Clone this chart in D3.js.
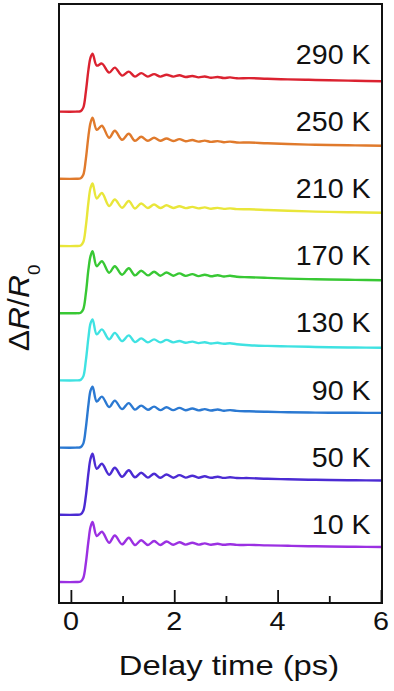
<!DOCTYPE html>
<html>
<head>
<meta charset="utf-8">
<script src="https://cdn.jsdelivr.net/npm/d3@7"></script>
<style>
  body { margin: 0; background: #fff; }
  text { font-family: 'Liberation Sans', Arial, sans-serif; fill: #111; }
</style>
</head>
<body>
<script>
  // delay time (ps), shared by all traces
  var times = [-0.23, 0.10, 0.19, 0.24, 0.29, 0.34, 0.38, 0.42, 0.50, 0.60, 0.74, 0.85, 0.99, 1.12, 1.24, 1.36,
    1.49, 1.61, 1.73, 1.85, 1.98, 2.10, 2.22, 2.35, 2.47, 2.59, 2.71, 2.84, 2.96, 3.08, 3.21, 3.45, 3.8, 4.2,
    4.6, 5.0, 5.5, 6.02];

  // dR/R0 (arb. units) per temperature, before offset
  var r10K  = [0, 0, 0.5, 4, 19, 41, 55, 60, 46, 50.3, 39.3, 46.5, 37.7, 44.3, 37, 41.7, 37, 41, 37, 40.5, 37.2, 39.8,
    37.4, 39.2, 37.4, 38.6, 37.3, 38.2, 37.2, 37.8, 37.1, 37.1, 36.6, 36.2, 35.8, 35.5, 35.2, 35];
  var r50K  = [0, 0, 0.5, 4, 19, 42, 56, 61, 46, 51, 40, 47, 38, 44.5, 37.5, 42, 37.2, 41, 37, 40.3, 37.1, 39.7,
    37.2, 39.1, 37.1, 38.5, 37, 38.1, 36.9, 37.6, 36.8, 36.7, 36, 35.5, 35.1, 34.8, 34.5, 34.3];
  var r90K  = [0, 0, 0.5, 4, 20, 43, 57, 61, 46, 51, 40.5, 47, 38.5, 44.5, 38, 42, 37.8, 41, 37.5, 40.3, 37.5, 39.7,
    37.4, 39.1, 37.2, 38.5, 37.1, 38.1, 36.9, 37.5, 36.7, 36.3, 35.8, 35.4, 35.1, 34.9, 34.8, 34.7];
  var r130K = [0, 0, 0.5, 4, 20, 43, 57, 61, 46, 51, 41, 47.5, 39.3, 45, 38.3, 42, 38, 41, 38, 40.5, 38, 39.4,
    37.6, 38.8, 37.3, 38.2, 36.9, 37.6, 36.6, 37.1, 36.2, 35.2, 34.5, 34, 33.6, 33.2, 32.9, 32.7];
  var r170K = [0, 0, 0.5, 4, 20, 44, 57, 62, 47, 52, 40.5, 47, 38.5, 45, 37.8, 42.5, 37.8, 41.5, 37.5, 40.7, 37.5, 39.8,
    37.3, 39.1, 37.1, 38.5, 36.9, 38, 36.7, 37.4, 36.4, 36, 35.3, 34.6, 34.1, 33.7, 33.3, 33];
  var r210K = [0, 0, 0.5, 4, 20, 44, 58, 62.5, 47.5, 53, 40, 46.5, 38.3, 45, 37.5, 42.5, 38, 41.5, 38, 40.7, 38, 39.8,
    37.9, 39.1, 37.6, 38.6, 37.3, 38.1, 37.1, 37.6, 36.9, 36.7, 36, 35.2, 34.6, 34.1, 33.7, 33.3];
  var r250K = [0, 0, 0.5, 4, 20, 43, 56, 61, 49, 53, 41, 48, 39, 45, 38, 42, 38, 41, 38, 40.3, 37.8, 39.7,
    37.6, 38.8, 37.2, 38.2, 36.9, 37.7, 36.6, 37.2, 36.3, 36.3, 35.5, 34.8, 34.2, 33.8, 33.4, 33];
  var r290K = [0, 0, 0.5, 4, 20, 42, 54, 58, 46, 48, 39, 44, 36, 40, 35, 38.5, 35, 37.5, 35, 36.8, 35, 36.3,
    34.6, 35.6, 34.2, 35.1, 33.9, 34.6, 33.6, 34.2, 33.3, 33.5, 32.8, 32.2, 31.8, 31.3, 30.8, 30.3];

  var tempLabels = ['10 K', '50 K', '90 K', '130 K', '170 K', '210 K', '250 K', '290 K'];
  var traces = [r10K, r50K, r90K, r130K, r170K, r210K, r250K, r290K];
  var colors = ['#9b30e2', '#4b2bd3', '#2b79d2', '#3fe2e2', '#38c834', '#e9e63a', '#e07a2c', '#db2230'];
  var offsetStep = 67.2;
  var xTicks = [0, 2, 4, 6];
  var xMinorTicks = [1, 3, 5];

  var margin = {top: 4, right: 12, bottom: 88, left: 59},
    width  = 394 - margin.left - margin.right,
    height = 691 - margin.top - margin.bottom;

  var x = d3.scaleLinear().domain([-0.23, 6.02]).range([0, width]),
    y   = d3.scaleLinear().domain([-21, 578]).range([height, 0]);

  var svg = d3.select('body').append('svg')
    .attr('width', 394)
    .attr('height', 691);

  var plot = svg.append('g')
    .attr('transform', 'translate(' + margin.left + ',' + margin.top + ')');

  var traceLine = function(off) {
    return d3.line()
      .curve(d3.curveCatmullRom.alpha(0.5))
      .x(function(d, i) { return x(times[i]); })
      .y(function(d) { return y(d + off); });
  };

  traces.forEach(function(vals, k) {
    plot.append('path')
      .datum(vals)
      .attr('fill', 'none')
      .attr('stroke', colors[k])
      .attr('stroke-width', 2.4)
      .attr('stroke-linejoin', 'round')
      .attr('d', traceLine(k * offsetStep));

    plot.append('text')
      .attr('transform', 'translate(' + x(5.8) + ',' + y(k * offsetStep + 48) + ') scale(1.06,1)')
      .attr('text-anchor', 'end')
      .style('font-size', '27px')
      .text(tempLabels[k]);
  });

  // bottom axis: ticks point inwards
  var xAxis = plot.append('g')
    .attr('transform', 'translate(0,' + height + ')')
    .call(d3.axisBottom(x).tickValues(xTicks).tickSize(-13).tickFormat(''));
  xAxis.select('.domain').remove();
  xAxis.selectAll('line').attr('stroke', '#111').attr('stroke-width', 1.8);

  var xAxisMinor = plot.append('g')
    .attr('transform', 'translate(0,' + height + ')')
    .call(d3.axisBottom(x).tickValues(xMinorTicks).tickSize(-7).tickFormat(''));
  xAxisMinor.select('.domain').remove();
  xAxisMinor.selectAll('line').attr('stroke', '#111').attr('stroke-width', 1.8);

  xTicks.forEach(function(t) {
    plot.append('text')
      .attr('transform', 'translate(' + x(t) + ',' + (height + 27) + ') scale(1.15,1)')
      .attr('text-anchor', 'middle')
      .style('font-size', '25px')
      .text(t);
  });

  // frame
  plot.append('rect')
    .attr('width', width)
    .attr('height', height)
    .attr('fill', 'none')
    .attr('stroke', '#111')
    .attr('stroke-width', 2);

  svg.append('text')
    .attr('transform', 'translate(229,675) scale(1.17,1)')
    .attr('text-anchor', 'middle')
    .style('font-size', '28px')
    .text('Delay time (ps)');

  var yTitle = svg.append('text')
    .attr('transform', 'translate(29,308) rotate(-90) scale(1.1,1)')
    .attr('text-anchor', 'middle')
    .style('font-size', '29px');
  yTitle.append('tspan').text('\u0394');
  yTitle.append('tspan').style('font-style', 'italic').text('R');
  yTitle.append('tspan').text('/');
  yTitle.append('tspan').style('font-style', 'italic').text('R');
  yTitle.append('tspan').attr('dy', 11).style('font-size', '17px').text('0');
</script>
</body>
</html>
